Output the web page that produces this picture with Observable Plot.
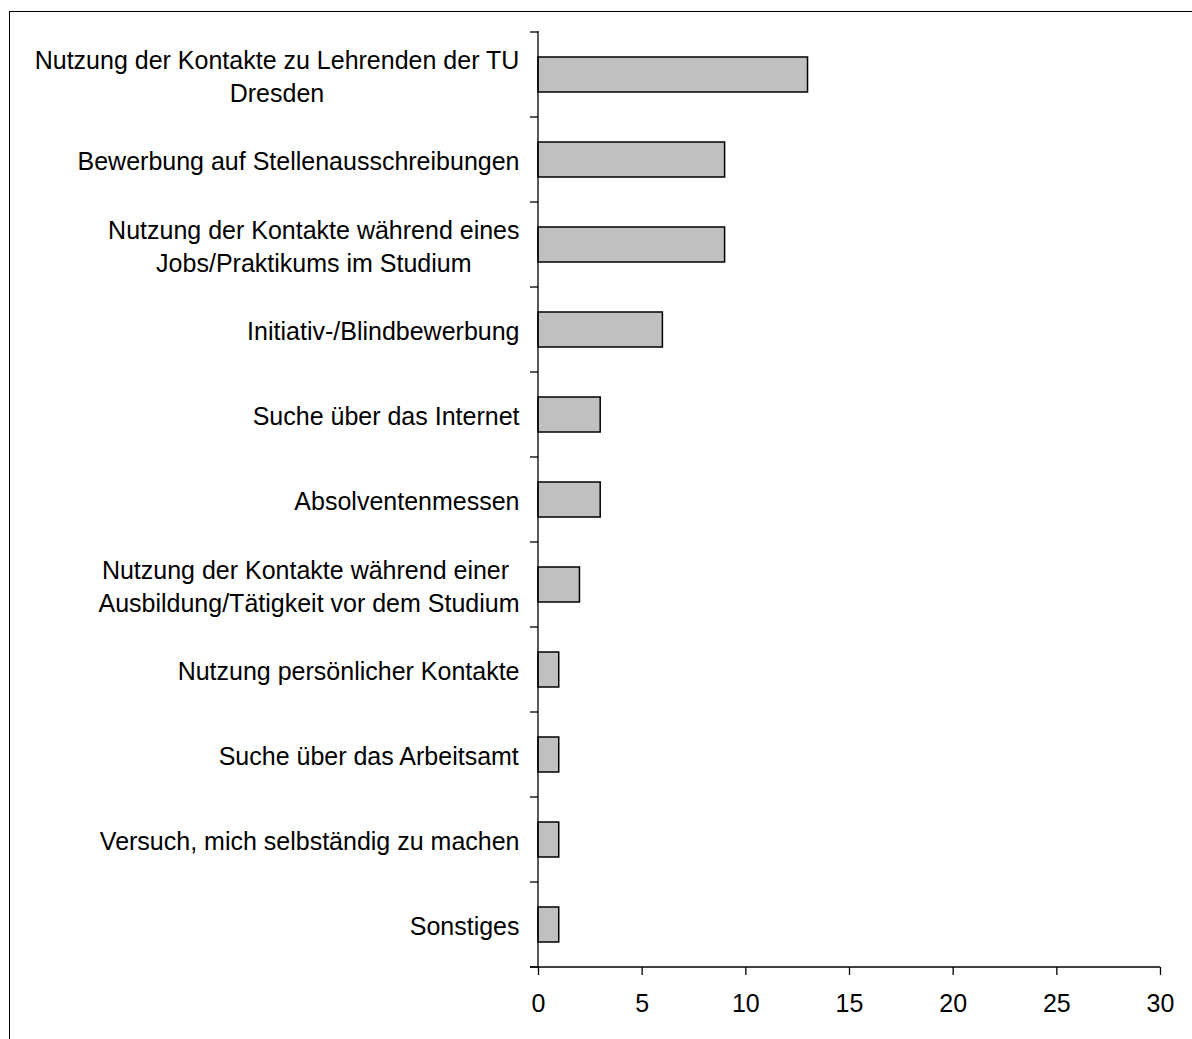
<!DOCTYPE html>
<html><head><meta charset="utf-8">
<script src="https://cdn.jsdelivr.net/npm/d3@7"></script>
<script src="https://cdn.jsdelivr.net/npm/@observablehq/plot@0.6"></script>
<style>
body{margin:0;background:#fff;}
#wrap{position:relative;width:1192px;height:1039px;overflow:hidden;background:#fff;}
#frame{position:absolute;left:9px;top:11px;width:1400px;height:1400px;border-left:1.5px solid #000;border-top:1.5px solid #000;}
#chart{position:absolute;left:0;top:0;}
</style></head>
<body><div id="wrap"><div id="frame"></div><div id="chart"></div></div>
<script>
const categories = [
  "Nutzung der Kontakte zu Lehrenden der TU\nDresden",
  "Bewerbung auf Stellenausschreibungen",
  "Nutzung der Kontakte während eines\nJobs/Praktikums im Studium",
  "Initiativ-/Blindbewerbung",
  "Suche über das Internet",
  "Absolventenmessen",
  "Nutzung der Kontakte während einer \nAusbildung/Tätigkeit vor dem Studium",
  "Nutzung persönlicher Kontakte",
  "Suche über das Arbeitsamt",
  "Versuch, mich selbständig zu machen",
  "Sonstiges"
];
const values = [13, 9, 9, 6, 3, 3, 2, 1, 1, 1, 1];
const xTicks = [0, 5, 10, 15, 20, 25, 30];
const xDomain = [0, 30];

const data = categories.map((c, i) => ({category: c, value: values[i]}));

const FONT = "'Liberation Sans', Arial, sans-serif";
const FS = 25;
const ctx = document.createElement("canvas").getContext("2d");
ctx.font = `${FS}px 'Liberation Sans', Arial, sans-serif`;
function blockWidth(label) {
  return d3.max(label.split("\n"), s => ctx.measureText(s).width);
}

function axesDecor(index, scales, values, dims) {
  const {x, y} = scales;
  const g = d3.create("svg:g").attr("stroke", "#000").attr("stroke-width", 1.3).attr("fill", "none");
  const x0 = x(xDomain[0]);
  const yBottom = dims.height - dims.marginBottom;
  const yTop = dims.marginTop;
  g.append("line").attr("x1", x0).attr("x2", x0).attr("y1", yTop).attr("y2", yBottom);
  g.append("line").attr("x1", x0 - 8).attr("x2", x(xDomain[1])).attr("y1", yBottom).attr("y2", yBottom);
  const bounds = categories.map(c => y(c)).concat([yBottom]);
  for (const b of bounds) {
    g.append("line").attr("x1", x0 - 8).attr("x2", x0).attr("y1", b).attr("y2", b);
  }
  return g.node();
}

const labelMarks = data.map(d => Plot.text([d], {
  x: 0, y: "category", text: "category",
  textAnchor: "middle", dx: -19 - blockWidth(d.category) / 2,
  lineHeight: 1.3, fontSize: FS, fill: "#000"
}));

const plot = Plot.plot({
  width: 1192,
  height: 1039,
  marginLeft: 538,
  marginRight: 32,
  marginTop: 31,
  marginBottom: 72,
  style: {fontFamily: FONT, fontSize: FS + "px", background: "transparent", overflow: "visible", color: "#000"},
  x: {domain: xDomain, label: null},
  y: {domain: categories, padding: 0, label: null, axis: null},
  marks: [
    Plot.barX(data, {x: "value", y: "category", fill: "#c0c0c0", stroke: "#000", strokeWidth: 1.5, insetTop: 25, insetBottom: 25}),
    ...labelMarks,
    Plot.axisX({ticks: xTicks, tickSize: 8, tickPadding: 19, label: null, fontSize: FS, stroke: "#000", strokeWidth: 1.3, strokeOpacity: 1}),
    axesDecor
  ]
});
document.getElementById("chart").appendChild(plot);
</script>
</body></html>
